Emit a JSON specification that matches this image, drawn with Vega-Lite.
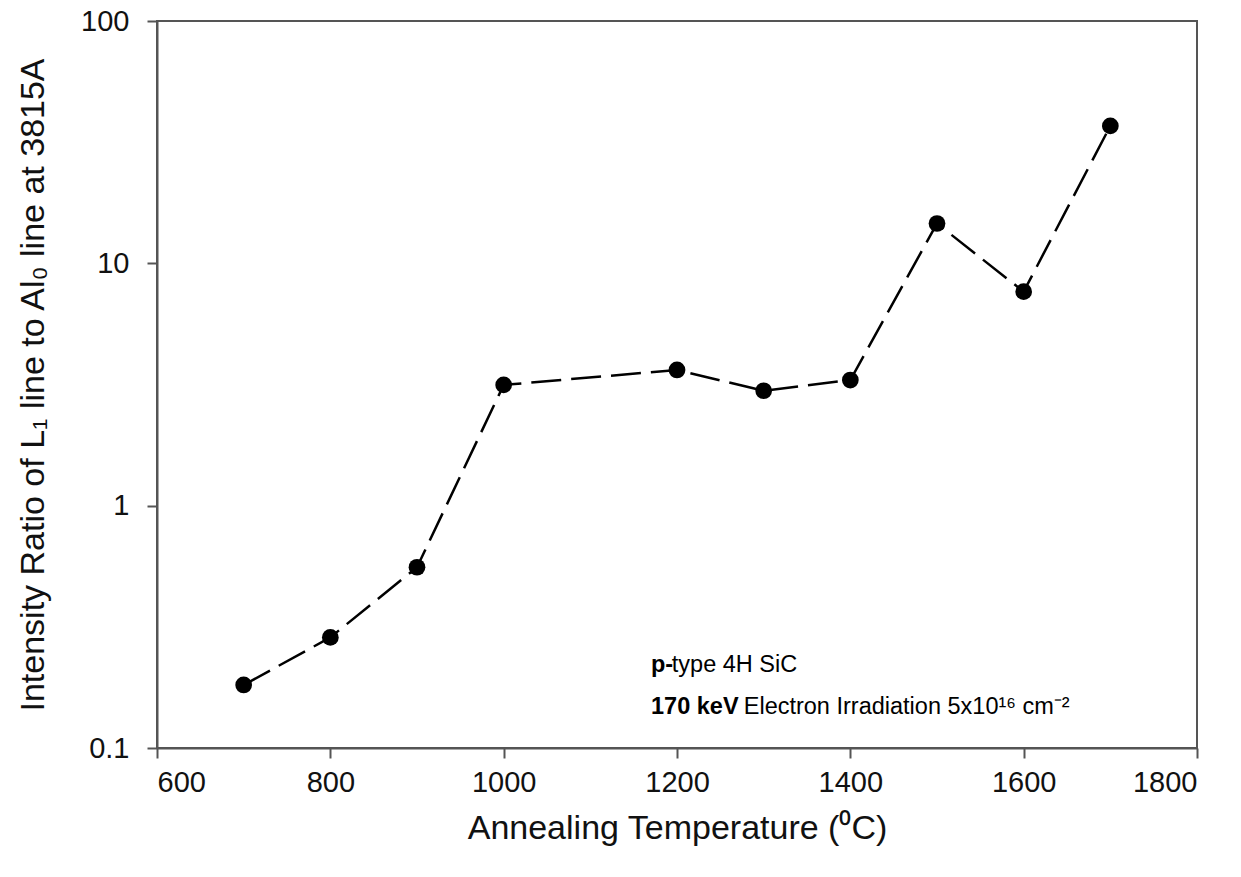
{
  "$schema": "https://vega.github.io/schema/vega-lite/v6.json",
  "width": 1040,
  "height": 727,
  "autosize": {"type": "none"},
  "padding": {"left": 157, "top": 21, "right": 44, "bottom": 129},
  "background": "white",
  "config": {
    "font": "Liberation Sans",
    "view": {"stroke": "#555555", "strokeWidth": 2},
    "axis": {
      "domainColor": "#555555",
      "domainWidth": 2,
      "tickColor": "#555555",
      "tickWidth": 2,
      "tickSize": 10,
      "grid": false,
      "labelColor": "#111111",
      "titleColor": "#111111",
      "labelFont": "Liberation Sans",
      "titleFont": "Liberation Sans",
      "labelFontSize": 29,
      "titleFontSize": 34,
      "titleFontWeight": "normal"
    }
  },
  "datasets": {
    "series": [
      {"temp": 700, "ratio": 0.182},
      {"temp": 800, "ratio": 0.286},
      {"temp": 900, "ratio": 0.557},
      {"temp": 1000, "ratio": 3.15},
      {"temp": 1200, "ratio": 3.63},
      {"temp": 1300, "ratio": 2.98},
      {"temp": 1400, "ratio": 3.3},
      {"temp": 1500, "ratio": 14.6},
      {"temp": 1600, "ratio": 7.64},
      {"temp": 1700, "ratio": 36.9}
    ],
    "boldNotes": [
      {"temp": 1170, "ratio": 0.22, "label": "p-"},
      {"temp": 1170, "ratio": 0.147, "label": "170 keV"}
    ],
    "plainNotes": [
      {"temp": 1194, "ratio": 0.22, "label": "type 4H SiC"},
      {"temp": 1277, "ratio": 0.147, "label": "Electron Irradiation 5x10¹⁶ cm⁻²"}
    ]
  },
  "layer": [
    {
      "data": {"name": "series"},
      "mark": {"type": "line", "color": "black", "strokeWidth": 2.5, "strokeDash": [30, 10]},
      "encoding": {
        "x": {
          "field": "temp", "type": "quantitative",
          "scale": {"domain": [600, 1800], "nice": false, "zero": false},
          "axis": {
            "values": [600, 800, 1000, 1200, 1400, 1600, 1800],
            "format": "d",
            "title": "Annealing Temperature (⁰C)",
            "labelPadding": 10,
            "titlePadding": 14
          }
        },
        "y": {
          "field": "ratio", "type": "quantitative",
          "scale": {"type": "log", "domain": [0.1, 100], "nice": false},
          "axis": {
            "values": [0.1, 1, 10, 100],
            "format": "~g",
            "title": "Intensity Ratio of L₁ line to Al₀ line at 3815A",
            "labelPadding": 18,
            "titlePadding": 30
          }
        }
      }
    },
    {
      "data": {"name": "series"},
      "mark": {"type": "point", "filled": true, "color": "black", "opacity": 1, "size": 280},
      "encoding": {
        "x": {"field": "temp", "type": "quantitative"},
        "y": {"field": "ratio", "type": "quantitative"}
      }
    },
    {
      "data": {"name": "boldNotes"},
      "mark": {"type": "text", "align": "left", "baseline": "middle", "fontSize": 23.5, "fontWeight": "bold", "color": "black", "font": "Liberation Sans"},
      "encoding": {
        "x": {"field": "temp", "type": "quantitative"},
        "y": {"field": "ratio", "type": "quantitative"},
        "text": {"field": "label"}
      }
    },
    {
      "data": {"name": "plainNotes"},
      "mark": {"type": "text", "align": "left", "baseline": "middle", "fontSize": 23.5, "color": "black", "font": "Liberation Sans"},
      "encoding": {
        "x": {"field": "temp", "type": "quantitative"},
        "y": {"field": "ratio", "type": "quantitative"},
        "text": {"field": "label"}
      }
    }
  ]
}
